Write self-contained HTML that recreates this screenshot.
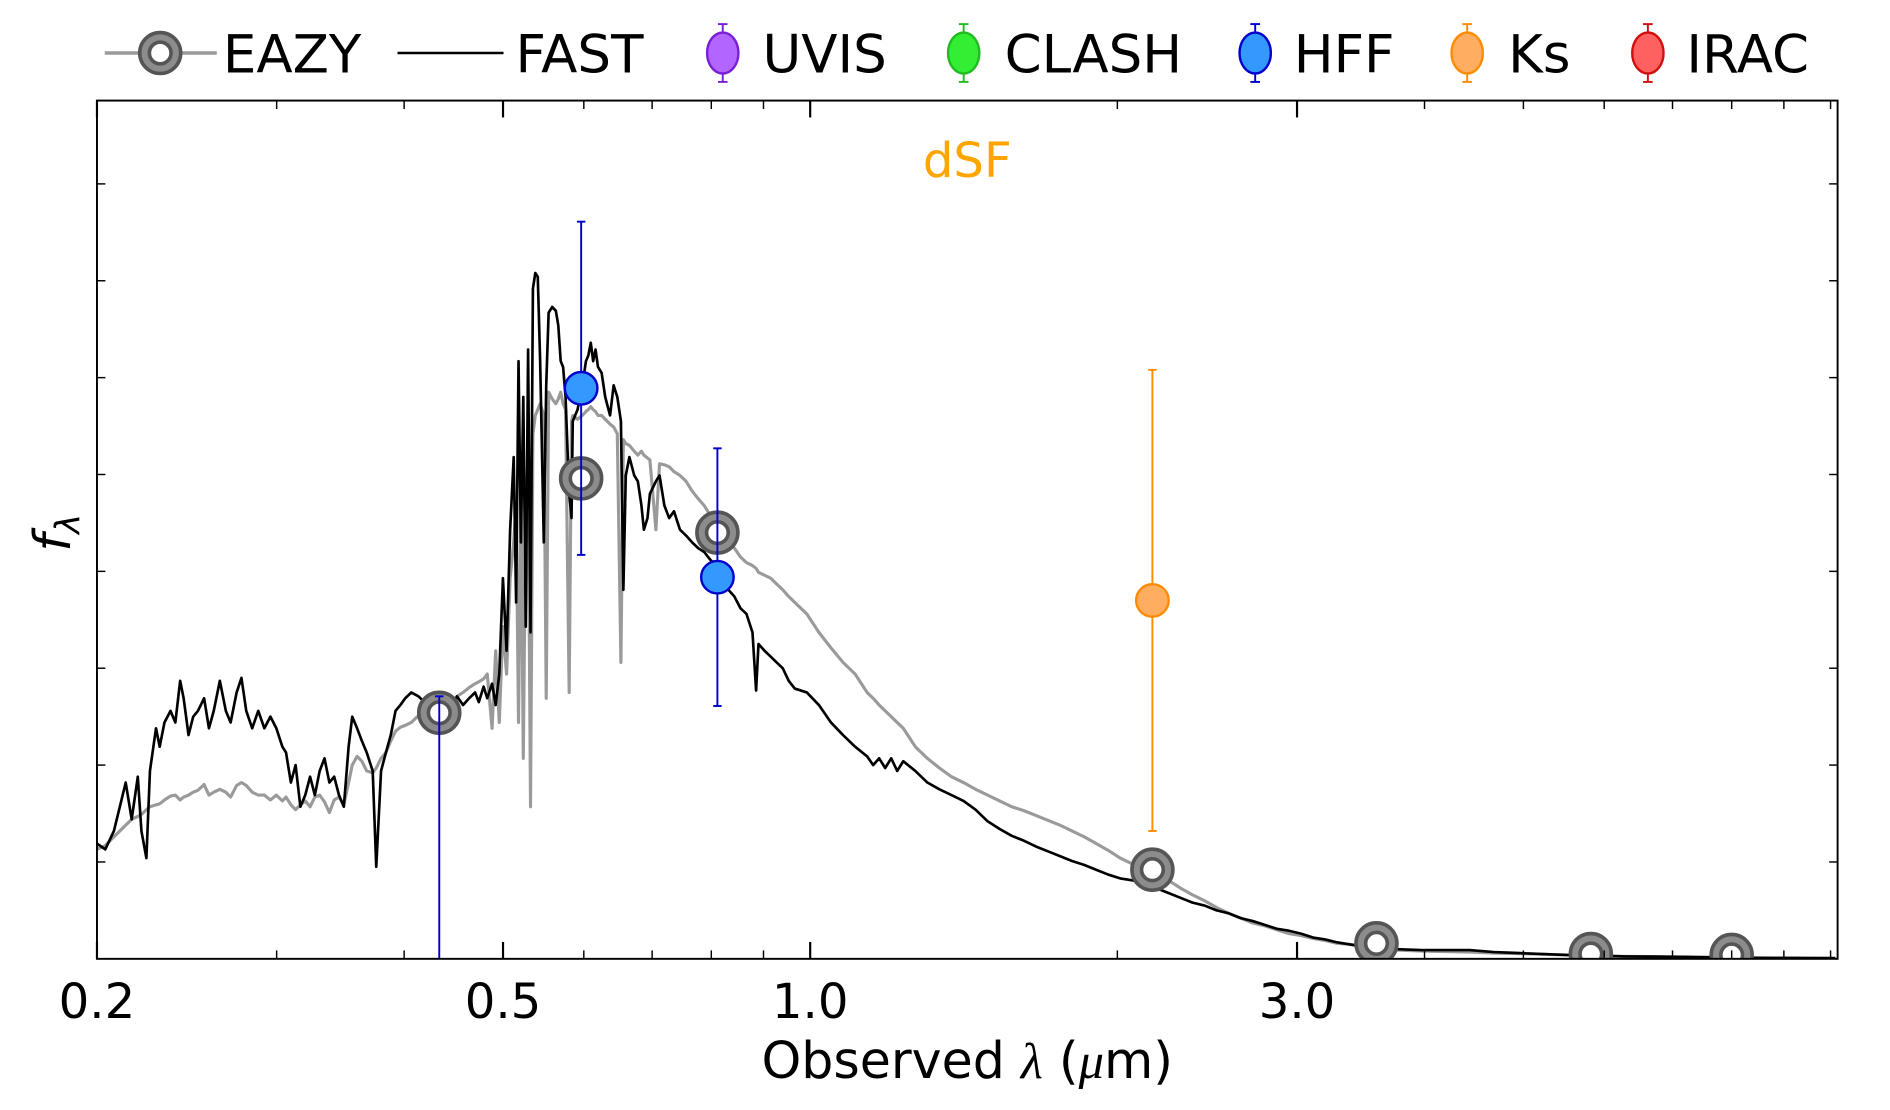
<!DOCTYPE html>
<html><head><meta charset="utf-8"><title>dSF SED</title>
<style>html,body{margin:0;padding:0;background:#fff;overflow:hidden;width:1890px;height:1110px;}svg{display:block;}
text{font-family:"DejaVu Sans","Liberation Sans",sans-serif;}</style></head>
<body>
<svg id="chart" width="1890" height="1110" viewBox="0 0 1569 921.5" preserveAspectRatio="none" xmlns="http://www.w3.org/2000/svg">
<defs><clipPath id="plotclip"><rect x="80.5" y="83.5" width="1445" height="712.5"/></clipPath></defs>
<g id="legend"></g>
<g id="spectra" clip-path="url(#plotclip)"></g>
<g id="axes"></g>
<text x="803" y="147" font-size="40" fill="#ffa500" text-anchor="middle">dSF</text>
<text x="803" y="895" font-size="42" text-anchor="middle">Observed <tspan font-family="Liberation Serif,serif" font-style="italic">λ</tspan> (<tspan font-family="Liberation Serif,serif" font-style="italic">μ</tspan>m)</text>
<text x="0" y="0" font-size="42" font-family="Liberation Serif,serif" font-style="italic" transform="translate(58,458) rotate(-90)">f<tspan font-size="28" dy="8">λ</tspan></text>
</svg>
<script>
const wave = [0.2,0.2038,0.2078,0.2106,0.2134,0.2163,0.2193,0.2211,0.2236,0.2254,0.2285,0.2304,0.2329,0.2361,0.2387,0.2413,0.2432,0.2459,0.2485,0.2512,0.2547,0.2575,0.2603,0.2639,0.2675,0.2704,0.2741,0.2771,0.2801,0.2839,0.2878,0.2918,0.2958,0.2998,0.3039,0.3064,0.3098,0.3131,0.3165,0.3200,0.3235,0.3270,0.3306,0.3342,0.3379,0.3416,0.3453,0.3491,0.3529,0.3558,0.3597,0.3636,0.3676,0.3726,0.3756,0.3797,0.3839,0.3881,0.3923,0.3966,0.4010,0.4065,0.4131,0.4188,0.4245,0.4304,0.4363,0.4447,0.4507,0.4569,0.4632,0.4695,0.4734,0.4786,0.4825,0.4878,0.4918,0.4958,0.4999,0.5040,0.5081,0.5122,0.5150,0.5178,0.5206,0.5234,0.5263,0.5291,0.5320,0.5349,0.5378,0.5408,0.5437,0.5482,0.5512,0.5542,0.5587,0.5633,0.5664,0.5695,0.5726,0.5758,0.5805,0.5836,0.5852,0.5916,0.5980,0.6029,0.6062,0.6095,0.6128,0.6161,0.6195,0.6246,0.6297,0.6366,0.6418,0.6471,0.6524,0.6560,0.6596,0.6650,0.6723,0.6778,0.6833,0.6871,0.6927,0.6965,0.7060,0.7118,0.7196,0.7274,0.7354,0.7454,0.7557,0.7660,0.7766,0.7872,0.7981,0.8090,0.8201,0.8314,0.8428,0.8543,0.8661,0.8779,0.8851,0.8899,0.9022,0.9146,0.9271,0.9399,0.9527,0.9658,0.9925,1.0199,1.0480,1.0769,1.1066,1.1371,1.1527,1.1684,1.1844,1.2006,1.2170,1.2337,1.2677,1.3027,1.3386,1.3755,1.4134,1.4524,1.4924,1.5336,1.5759,1.6193,1.6640,1.7098,1.7570,1.8054,1.8552,1.9064,1.9589,2.0129,2.0684,2.1254,2.1840,2.2442,2.3061,2.3697,2.4350,2.5021,2.5711,2.6420,2.7148,2.7896,2.8665,2.9456,3.0268,3.1102,3.1960,3.2841,3.3746,3.5632,3.7623,3.9724,4.194,4.428,4.676,4.932,5.498,6.298,7.216,8.266,10.11];
const fastFlux = [11.9,11.3,13.2,15.7,18.2,14.4,18.8,13.2,10.4,19.4,23.8,21.9,24.4,25.6,24.4,28.7,26.9,23.1,25.0,25.6,26.9,23.8,25.6,28.7,25.6,24.4,27.5,29.0,25.6,23.8,25.6,23.8,25.0,23.8,21.9,21.3,18.2,20.0,15.7,16.9,18.8,16.9,19.4,20.7,18.2,18.8,16.9,15.7,21.9,25.0,23.8,22.5,21.3,19.4,9.5,19.4,21.3,23.1,25.6,26.2,26.9,27.5,27.1,26.5,25.6,26.2,26.6,25.6,27.1,26.2,26.9,27.5,26.5,28.1,26.9,28.4,26.2,29.4,39.3,31.8,44.3,51.8,36.8,61.7,43.0,58.0,34.3,62.9,33.7,69.2,70.8,70.4,61.7,43.0,59.2,66.7,67.3,66.9,65.4,61.7,61.1,58.0,48.0,45.5,55.5,56.7,59.2,61.7,62.3,63.6,61.7,62.9,61.1,60.5,58.0,56.1,59.2,58.0,55.5,38.1,49.9,51.8,49.9,49.3,46.8,44.3,45.5,48.0,49.3,49.9,46.8,45.5,46.2,44.3,43.7,43.0,42.4,42.0,41.2,40.6,39.6,38.1,37.4,36.2,35.6,33.7,27.7,32.5,31.8,31.2,30.6,30.0,28.7,27.9,27.5,26.2,24.4,23.1,21.9,20.9,20.0,20.7,19.7,20.7,19.4,20.4,19.4,18.2,17.5,16.9,16.3,15.4,14.2,13.4,12.7,12.2,11.6,11.1,10.6,10.1,9.7,9.2,8.7,8.3,8.1,7.8,7.3,6.8,6.3,5.8,5.5,5.0,4.7,4.2,3.9,3.5,3.1,2.9,2.6,2.2,2.0,1.7,1.5,1.1,1.0,0.9,0.9,0.9,0.7,0.6,0.4,0.25,0.2,0.1,0.06];
const eazyFlux = [11.3,11.7,12.6,13.2,13.8,14.4,14.7,14.9,15.4,15.7,15.9,16.0,16.4,16.8,16.9,16.4,16.7,16.9,17.2,17.4,18.0,16.9,17.2,17.5,17.2,16.7,17.9,18.2,17.9,17.2,16.9,16.9,16.4,16.9,16.3,16.7,15.9,15.4,15.9,16.3,15.7,16.7,16.9,16.2,15.1,16.4,16.7,15.9,18.2,20.0,20.9,20.4,19.4,19.2,19.7,20.7,21.3,22.5,23.5,23.9,24.1,24.4,25.1,25.6,25.4,25.0,25.4,26.4,27.1,27.5,28.0,28.4,28.6,28.9,29.4,23.8,31.8,24.4,34.3,29.4,39.3,43.0,46.8,24.4,49.3,20.7,46.8,51.8,15.7,54.2,56.1,56.7,57.3,56.1,26.9,58.5,57.8,57.3,57.8,58.5,57.3,56.7,27.5,55.5,56.1,55.7,56.1,56.5,56.7,57.0,56.7,56.5,56.1,56.1,55.7,55.2,54.9,54.2,30.6,53.6,53.2,53.0,52.4,52.0,52.4,52.0,51.7,51.5,44.3,51.1,51.0,50.8,50.3,49.9,49.3,48.3,47.5,46.8,45.8,44.9,43.9,43.0,42.4,41.5,40.9,40.6,40.3,39.9,39.6,39.3,38.7,38.1,37.4,36.8,35.6,33.7,32.1,30.6,29.4,27.5,26.9,26.2,25.6,25.0,24.4,23.8,21.9,20.7,19.7,18.8,18.2,17.5,16.9,16.3,15.7,15.3,14.8,14.3,13.8,13.2,12.6,11.9,11.2,10.4,9.8,9.2,8.6,8.1,7.3,6.6,6.0,5.3,4.7,4.2,3.7,3.4,3.0,2.6,2.4,2.1,1.9,1.6,1.5,1.1,0.9,0.8,0.75,0.7,0.6,0.55,0.4,0.25,0.2,0.1,0.06];
const eazyPhotWave = [0.433,0.5964,0.8111,2.1646,3.589,5.822,8.00];
const eazyPhotFlux = [25.4,49.6,44.0,9.2,1.6,0.5,0.4];
const hffWave = [0.433,0.5964,0.8111];
const hffFlux = [-5.0,58.9,39.4];
const hffErr = [32.1,17.2,13.3];
const ksWave = [2.1646];
const ksFlux = [37.0];
const ksErr = [23.8];
const xMajorTicks = [0.2,0.5,1.0,3.0];
const xMajorLabels = ["0.2","0.5","1.0","3.0"];
const xMinorTicks = [0.3,0.4,0.6,0.7,0.8,0.9,2,4,5,6,7,8,9,10];
const yTicks = [10,20,30,40,50,60,70,80];

const NS = "http://www.w3.org/2000/svg";
const L = 80.5, R = 1525.5, T = 83.5, B = 796;
const XMIN = 0.2, XMAX = 10.16, YMIN = 0, YMAX = 88.6;
function xs(v){ return L + Math.log10(v/XMIN)/Math.log10(XMAX/XMIN)*(R-L); }
function ys(v){ return B - (v-YMIN)/(YMAX-YMIN)*(B-T); }
function clampY(y){ return Math.max(T-20, Math.min(B+20, y)); }
function mk(tag, attrs, parent){ const e=document.createElementNS(NS,tag); for(const k in attrs) e.setAttribute(k,attrs[k]); parent.appendChild(e); return e; }

const sp = document.getElementById('spectra');
const ax = document.getElementById('axes');
const lg = document.getElementById('legend');

function linePath(xv, yv){ return xv.map((w,i)=>(i?'L':'M')+xs(w).toFixed(2)+' '+ys(yv[i]).toFixed(2)).join(' '); }
const gpath = mk('path',{d:linePath(wave,eazyFlux),fill:'none',stroke:'#9a9a9a','stroke-width':2.6,'stroke-linejoin':'round'},sp);


const bpath = mk('path',{d:linePath(wave,fastFlux),fill:'none',stroke:'#000','stroke-width':2.2,'stroke-linejoin':'round'},sp);



function errbar(w,f,e,color,parent){
  const g = mk('g',{},parent);
  const x = xs(w);
  const yt = clampY(ys(f+e)), yb = clampY(ys(f-e));
  mk('line',{x1:x,x2:x,y1:yt,y2:yb,stroke:color,'stroke-width':1.6},g);
  mk('line',{x1:x-3.5,x2:x+3.5,y1:yt,y2:yt,stroke:color,'stroke-width':1.6},g);
  mk('line',{x1:x-3.5,x2:x+3.5,y1:yb,y2:yb,stroke:color,'stroke-width':1.6},g);
  return g;
}
function eazyMarker(x,y,parent){
  const g = mk('g',{},parent);
  mk('circle',{cx:x,cy:y,r:17,fill:'#8c8c8c',stroke:'#555','stroke-width':3},g);
  mk('circle',{cx:x,cy:y,r:9,fill:'#fff',stroke:'#555','stroke-width':3},g);
  return g;
}
eazyPhotWave.forEach((w,i)=>{
  const g = eazyMarker(xs(w),ys(eazyPhotFlux[i]),sp);
  
  
});
hffWave.forEach((w,i)=>{
  const g = errbar(w,hffFlux[i],hffErr[i],'#0000cc',sp);
  mk('circle',{cx:xs(w),cy:clampY(ys(hffFlux[i])),r:13.5,fill:'#3399ff',stroke:'#0000cc','stroke-width':2},g);
  
  
});
ksWave.forEach((w,i)=>{
  const g = errbar(w,ksFlux[i],ksErr[i],'#ff8c00',sp);
  mk('circle',{cx:xs(w),cy:clampY(ys(ksFlux[i])),r:13.5,fill:'#ffad60',stroke:'#ff8c00','stroke-width':2},g);
  
  
});

const frame = mk('rect',{x:L,y:T,width:R-L,height:B-T,fill:'none',stroke:'#000','stroke-width':1.6},ax);


xMajorTicks.forEach((v,i)=>{
  const x = xs(v);
  mk('line',{x1:x,x2:x,y1:B,y2:B-14,stroke:'#000','stroke-width':1.8},ax);
  mk('line',{x1:x,x2:x,y1:T,y2:T+14,stroke:'#000','stroke-width':1.8},ax);
  const t = mk('text',{x:x,y:845,'font-size':40,'text-anchor':'middle'},ax);
  t.textContent = xMajorLabels[i];
  
  
});
xMinorTicks.forEach(v=>{
  const x = xs(v);
  mk('line',{x1:x,x2:x,y1:B,y2:B-7,stroke:'#000','stroke-width':1.2},ax);
  mk('line',{x1:x,x2:x,y1:T,y2:T+7,stroke:'#000','stroke-width':1.2},ax);
});
yTicks.forEach(v=>{
  const y = ys(v);
  mk('line',{x1:L,x2:L+7,y1:y,y2:y,stroke:'#000','stroke-width':1.2},ax);
  mk('line',{x1:R,x2:R-7,y1:y,y2:y,stroke:'#000','stroke-width':1.2},ax);
});

const LY = 44;
function legText(x,s){ const t=mk('text',{x:x,y:LY+16,'font-size':44},lg); t.textContent=s; return t; }
let g;
g = mk('g',{},lg);


mk('line',{x1:87,x2:180,y1:LY,y2:LY,stroke:'#9a9a9a','stroke-width':3},g);
eazyMarker(133,LY,g);
g.appendChild(legText(185,'EAZY'));
g = mk('g',{},lg);


mk('line',{x1:330,x2:418,y1:LY,y2:LY,stroke:'#000','stroke-width':2},g);
g.appendChild(legText(428,'FAST'));
const legPts = [[600,'UVIS','#b266ff','#7a1fd6',633],[800,'CLASH','#33ee33','#22bb22',834],[1042,'HFF','#3399ff','#0000cc',1074],[1218,'Ks','#ffad60','#ff8c00',1252],[1368,'IRAC','#ff6060','#d01010',1400]];
legPts.forEach(p=>{
  const gg = mk('g',{},lg);
  
  
  mk('line',{x1:p[0],x2:p[0],y1:LY-24,y2:LY+24,stroke:p[3],'stroke-width':1.6},gg);
  mk('line',{x1:p[0]-4,x2:p[0]+4,y1:LY-24,y2:LY-24,stroke:p[3],'stroke-width':1.6},gg);
  mk('line',{x1:p[0]-4,x2:p[0]+4,y1:LY+24,y2:LY+24,stroke:p[3],'stroke-width':1.6},gg);
  mk('ellipse',{cx:p[0],cy:LY,rx:13,ry:17,fill:p[2],stroke:p[3],'stroke-width':2},gg);
  gg.appendChild(legText(p[4],p[1]));
});
</script>
</body></html>
